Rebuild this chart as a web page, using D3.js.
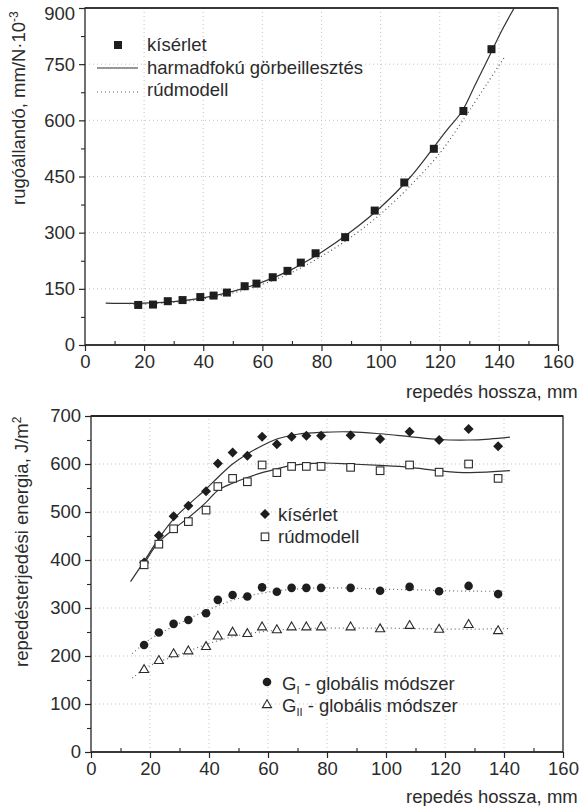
<!DOCTYPE html>
<html><head><meta charset="utf-8">
<script src="https://cdn.jsdelivr.net/npm/d3@7"></script>
<style>
body{margin:0;background:#fff}
text{font-family:"Liberation Sans",Arial,sans-serif;fill:#2b2b2b}
</style>
</head><body><svg id="c" width="581" height="806"></svg>
<script>
// ---------- data: top chart ----------
const crackLength = [18,23,28,33,39,43.5,48,54,58,63.5,68.5,73,78,88,98,108,118,128,137.5];
const springExp   = [107,108,117,120,128,132,140,157,164,181,198,220,245,288,359,434,524,625,790];
const cubicFitX = [7,15,20,30,40,50,60,70,80,90,100,110,122,127.6,132,137.3,141,145.4];
const cubicFitY = [112,111,112,116,126,143,168,202,248,303,368,448,570,625,695,780,840,903];
const beamModelX = [15,20,30,40,50,60,70,80,90,100,110,120,126.8,130.2,136,142];
const beamModelY = [110,109,114,123,139,162,194,237,288,350,425,512,588,628,698,770];
const topXTicks = [0,20,40,60,80,100,120,140,160];
const topYTicks = [0,150,300,450,600,750,900];

// ---------- data: bottom chart ----------
const crackLength2 = [18,23,28,33,39,43,48,53,58,63,68,73,78,88,98,108,118,128,138];
const gExp  = [395,451,491,513,543,601,624,617,657,641,657,659,659,660,652,667,650,673,637];
const gBeam = [390,433,465,480,504,553,570,563,598,582,595,595,595,593,586,598,583,600,570];
const gI    = [223,249,267,275,289,317,327,324,343,334,342,342,342,342,336,344,335,346,329];
const gII   = [171,190,204,210,219,241,249,246,260,254,260,260,260,260,256,263,255,265,252];
const expFitX = [13.4,18,23,28,33,39,43,48,53,58,63,70,78,88,98,108,118,128,135,142];
const expFitY = [355,397,445,485,515,548,572,600,621,638,652,662,666,667,663,657,651,650,652,656];
const beamFitX = [17.7,22.6,27.5,33,39,43,48,53,58,63,68,78,88,98,108,118,128,142];
const beamFitY = [388,435,462,488,520,545,560,572,582,590,597,602,600,597,593,586,582,586];
const gIFitX = [14,20,30,40,50,60,70,80,90,100,110,120,130,140];
const gIFitY = [205,235,268,297,320,333,340,342,341,339,338,336,335,335];
const gIIFitX = [14,20,30,40,50,60,70,80,90,100,110,120,130,142];
const gIIFitY = [154,180,203,226,243,252,257,258,258,258,257,256,256,257];
const botXTicks = [0,20,40,60,80,100,120,140,160];
const botYTicks = [0,100,200,300,400,500,600,700];

const svg = d3.select("#c");
const FS = 18.5;
const ink = "#262626";

function frame(g, x, y, xTicks, yTicks, xMinor, yMinor, topW) {
  const [x0,x1] = x.range(), [y0,y1] = y.range();
  const grid = g.append("g").attr("stroke","#c4c4c4").attr("stroke-dasharray","1,3").attr("stroke-width",1);
  xTicks.slice(1,-1).forEach(t=>grid.append("line").attr("x1",x(t)).attr("x2",x(t)).attr("y1",y0).attr("y2",y1));
  yTicks.slice(1,-1).forEach(t=>grid.append("line").attr("x1",x0).attr("x2",x1).attr("y1",y(t)).attr("y2",y(t)));
  const ax = g.append("g").attr("transform",`translate(0,${y0})`)
    .call(d3.axisBottom(x).tickValues(xTicks).tickSize(6).tickPadding(4).tickFormat(d3.format("d")));
  const ay = g.append("g").attr("transform",`translate(${x0},0)`)
    .call(d3.axisLeft(y).tickValues(yTicks).tickSize(6).tickPadding(4).tickFormat(d3.format("d")));
  [ax,ay].forEach(a=>{
    a.select(".domain").remove();
    a.selectAll("line").attr("stroke",ink).attr("stroke-width",1.2);
    a.selectAll("text").attr("font-size",FS).attr("font-family","Liberation Sans, Arial, sans-serif").attr("fill","#2b2b2b");
  });
  g.append("g").attr("transform",`translate(0,${y0})`)
    .call(d3.axisTop(x).tickValues(xMinor).tickSize(4).tickFormat(""))
    .call(a=>{a.select(".domain").remove();a.selectAll("line").attr("stroke",ink).attr("stroke-width",1.1);});
  g.append("g").attr("transform",`translate(${x0},0)`)
    .call(d3.axisLeft(y).tickValues(yMinor).tickSize(4).tickFormat(""))
    .call(a=>{a.select(".domain").remove();a.selectAll("line").attr("stroke",ink).attr("stroke-width",1.1);});
  g.append("rect").attr("x",x0).attr("y",y1).attr("width",x1-x0).attr("height",y0-y1)
    .attr("fill","none").attr("stroke",ink).attr("stroke-width",1.3);
  g.append("line").attr("x1",x0).attr("x2",x1).attr("y1",y1).attr("y2",y1).attr("stroke",ink).attr("stroke-width",topW);
  g.append("line").attr("x1",x0).attr("x2",x1).attr("y1",y0).attr("y2",y0).attr("stroke",ink).attr("stroke-width",1.6);
  return ay;
}

// ================= TOP CHART =================
const xT = d3.scaleLinear().domain([0,160]).range([85,558]);
const yT = d3.scaleLinear().domain([0,900]).range([345,8]);
const gT = svg.append("g");
const ayT = frame(gT, xT, yT, topXTicks, topYTicks, d3.range(10,160,20), d3.range(75,900,150), 1.3);
ayT.selectAll(".tick").filter(d=>d===900).select("text").attr("dy","0.62em");

svg.append("clipPath").attr("id","clipT").append("rect")
  .attr("x",85).attr("y",8).attr("width",473).attr("height",337);
const lineT = d3.line().curve(d3.curveCatmullRom.alpha(0.5));
gT.append("path").attr("clip-path","url(#clipT)")
  .attr("d", lineT(cubicFitX.map((v,i)=>[xT(v),yT(cubicFitY[i])])))
  .attr("fill","none").attr("stroke","#333").attr("stroke-width",1.2);
gT.append("path").attr("clip-path","url(#clipT)")
  .attr("d", lineT(beamModelX.map((v,i)=>[xT(v),yT(beamModelY[i])])))
  .attr("fill","none").attr("stroke","#555").attr("stroke-width",1.2).attr("stroke-dasharray","1,3");
gT.selectAll("rect.pt").data(crackLength).join("rect").attr("class","pt")
  .attr("x",d=>xT(d)-4).attr("y",(d,i)=>yT(springExp[i])-4).attr("width",8).attr("height",8)
  .attr("fill","#1e1e1e");

// top legend
gT.append("rect").attr("x",114).attr("y",41).attr("width",8).attr("height",8).attr("fill","#1e1e1e");
gT.append("text").attr("x",147).attr("y",51).attr("font-size",FS).text("kísérlet");
gT.append("line").attr("x1",97).attr("x2",138).attr("y1",68).attr("y2",68).attr("stroke","#333").attr("stroke-width",1.2);
gT.append("text").attr("x",147).attr("y",74).attr("font-size",FS).text("harmadfokú görbeillesztés");
gT.append("line").attr("x1",97).attr("x2",138).attr("y1",92).attr("y2",92).attr("stroke","#555").attr("stroke-width",1.2).attr("stroke-dasharray","1,3");
gT.append("text").attr("x",147).attr("y",96).attr("font-size",FS).text("rúdmodell");

// top axis titles
const ytT = gT.append("text").attr("transform","translate(25,205) rotate(-90)").attr("font-size",FS);
ytT.append("tspan").text("rugóállandó, mm/N·10");
ytT.append("tspan").attr("font-size",12).attr("dy",-7).text("-3");
gT.append("text").attr("x",406).attr("y",398).attr("font-size",FS).text("repedés hossza, mm");

// ================= BOTTOM CHART =================
const xB = d3.scaleLinear().domain([0,160]).range([91,563]);
const yB = d3.scaleLinear().domain([0,700]).range([752,416]);
const gB = svg.append("g");
frame(gB, xB, yB, botXTicks, botYTicks, d3.range(10,160,20), d3.range(50,700,100), 2.2);

const lineB = d3.line().curve(d3.curveCatmullRom.alpha(0.5));
gB.append("path").attr("d", lineB(expFitX.map((v,i)=>[xB(v),yB(expFitY[i])])))
  .attr("fill","none").attr("stroke","#333").attr("stroke-width",1.2);
gB.append("path").attr("d", lineB(beamFitX.map((v,i)=>[xB(v),yB(beamFitY[i])])))
  .attr("fill","none").attr("stroke","#333").attr("stroke-width",1.2);
gB.append("path").attr("d", lineB(gIFitX.map((v,i)=>[xB(v),yB(gIFitY[i])])))
  .attr("fill","none").attr("stroke","#666").attr("stroke-width",1.2).attr("stroke-dasharray","1,3");
gB.append("path").attr("d", lineB(gIIFitX.map((v,i)=>[xB(v),yB(gIIFitY[i])])))
  .attr("fill","none").attr("stroke","#666").attr("stroke-width",1.2).attr("stroke-dasharray","1,3");

const diamond = d3.symbol().type(d3.symbolSquare).size(50);
const tri = d3.symbol().type(d3.symbolTriangle).size(36);
gB.selectAll("path.dia").data(crackLength2).join("path").attr("class","dia")
  .attr("transform",(d,i)=>`translate(${xB(d)},${yB(gExp[i])}) rotate(45)`).attr("d",diamond()).attr("fill","#1e1e1e");
gB.selectAll("rect.sq").data(crackLength2).join("rect").attr("class","sq")
  .attr("x",d=>xB(d)-3.8).attr("y",(d,i)=>yB(gBeam[i])-3.8).attr("width",7.6).attr("height",7.6)
  .attr("fill","#fff").attr("stroke","#2a2a2a").attr("stroke-width",1.1);
gB.selectAll("circle.gi").data(crackLength2).join("circle").attr("class","gi")
  .attr("cx",d=>xB(d)).attr("cy",(d,i)=>yB(gI[i])).attr("r",4.3).attr("fill","#1e1e1e");
gB.selectAll("path.gii").data(crackLength2).join("path").attr("class","gii")
  .attr("transform",(d,i)=>`translate(${xB(d)},${yB(gII[i])})`).attr("d",tri())
  .attr("fill","#fff").attr("stroke","#2a2a2a").attr("stroke-width",1.1);

// bottom legends
gB.append("path").attr("transform","translate(265,514) rotate(45)").attr("d",diamond()).attr("fill","#1e1e1e");
gB.append("text").attr("x",278).attr("y",521).attr("font-size",FS).text("kísérlet");
gB.append("rect").attr("x",261.2).attr("y",533).attr("width",7.6).attr("height",7.6)
  .attr("fill","#fff").attr("stroke","#2a2a2a").attr("stroke-width",1.1);
gB.append("text").attr("x",278).attr("y",543).attr("font-size",FS).text("rúdmodell");
gB.append("circle").attr("cx",267).attr("cy",682).attr("r",4.3).attr("fill","#1e1e1e");
const l1 = gB.append("text").attr("x",282).attr("y",690).attr("font-size",FS);
l1.append("tspan").text("G");
l1.append("tspan").attr("font-size",11).attr("dy",4).text("I");
l1.append("tspan").attr("dy",-4).text(" - globális módszer");
gB.append("path").attr("transform","translate(267,705)").attr("d",tri())
  .attr("fill","#fff").attr("stroke","#2a2a2a").attr("stroke-width",1.1);
const l2 = gB.append("text").attr("x",282).attr("y",712).attr("font-size",FS);
l2.append("tspan").text("G");
l2.append("tspan").attr("font-size",11).attr("dy",4).text("II");
l2.append("tspan").attr("dy",-4).text(" - globális módszer");

// bottom axis titles
const ytB = gB.append("text").attr("transform","translate(28,667) rotate(-90)").attr("font-size",FS);
ytB.append("tspan").text("repedésterjedési energia, J/m");
ytB.append("tspan").attr("font-size",12).attr("dy",-7).text("2");
gB.append("text").attr("x",406).attr("y",803).attr("font-size",FS).text("repedés hossza, mm");
</script>
</body></html>
